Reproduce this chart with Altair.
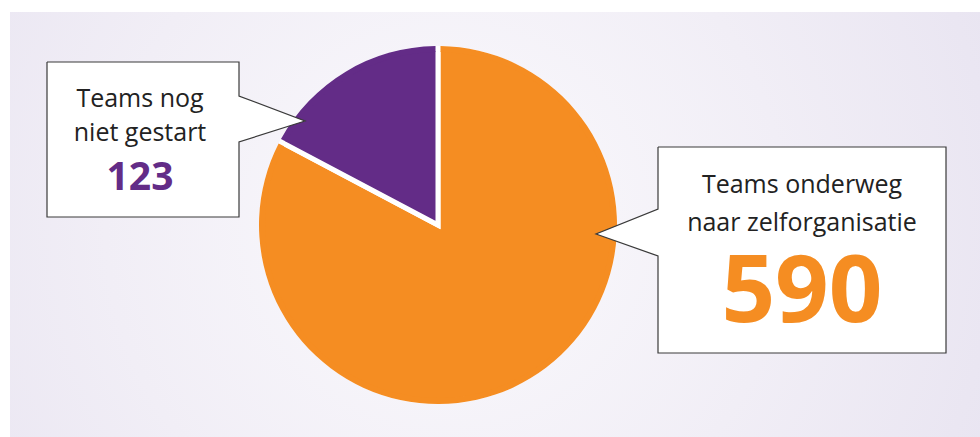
import altair as alt
import pandas as pd

# ---- data ----
categories = ["Teams onderweg naar zelforganisatie", "Teams nog niet gestart"]
values = [590, 123]
colors = ["#f58d22", "#632c87"]
label_lines = [["Teams onderweg", "naar zelforganisatie"], ["Teams nog", "niet gestart"]]

# ---- layout (pixels) ----
W, H = 980, 437
pie_cx, pie_cy, pie_r = 438, 225, 179
gap = 5
callouts = [
    dict(l=658, t=147, r=946, b=353, side="left", p1=209, p2=256, tx=596, ty=234, cx=802, lines_y=[193, 231], num_y=322, num_size=94),
    dict(l=47, t=62, r=239, b=217, side="right", p1=96, p2=142, tx=305, ty=121, cx=140, lines_y=[107, 141], num_y=190, num_size=39),
]

xs = alt.Scale(domain=[0, W], nice=False, zero=False)
ys = alt.Scale(domain=[0, H], reverse=True, nice=False, zero=False)

# background
bg_df = pd.DataFrame([{"x": 10, "x2": W, "y": 12, "y2": H}])
bg = alt.Chart(bg_df).mark_rect(
    fill=alt.RadialGradient(
        gradient="radial",
        x1=0.45, y1=0.5, r1=0.0, x2=0.45, y2=0.5, r2=0.78,
        stops=[alt.GradientStop(color="#fbfafd", offset=0.0),
               alt.GradientStop(color="#f1eef6", offset=0.45),
               alt.GradientStop(color="#e3deee", offset=1.0)],
    )
).encode(
    x=alt.X("x:Q", scale=xs, axis=None), x2="x2:Q",
    y=alt.Y("y:Q", scale=ys, axis=None), y2="y2:Q",
)

# pie: stroked core (white separators) + padded rim that hides the outer stroke
pie_df = pd.DataFrame({"category": categories, "value": values, "order": list(range(len(values)))})
color_enc = alt.Color("category:N", scale=alt.Scale(domain=categories, range=colors), legend=None)
core_r = pie_r - gap / 2
pie_core = alt.Chart(pie_df).mark_arc(radius=core_r, stroke="white", strokeWidth=gap, strokeJoin="miter").encode(
    theta=alt.Theta("value:Q", stack=True),
    color=color_enc,
    order=alt.Order("order:Q"),
    x=alt.value(pie_cx),
    y=alt.value(pie_cy),
)
rim_inner = core_r - gap / 2 - 1
pad_radius = (rim_inner ** 2 + pie_r ** 2) ** 0.5
pie_rim = alt.Chart(pie_df).mark_arc(radius=pie_r, radius2=rim_inner, padAngle=gap / pad_radius).encode(
    theta=alt.Theta("value:Q", stack=True),
    color=color_enc,
    order=alt.Order("order:Q"),
    x=alt.value(pie_cx),
    y=alt.value(pie_cy),
)

# callout fills and outlines
rect_rows, tri_rows, line_rows, text_rows, num_rows = [], [], [], [], []
for k, c in enumerate(callouts):
    rect_rows.append({"x": c["l"], "x2": c["r"], "y": c["t"], "y2": c["b"]})
    if c["side"] == "right":
        base = c["r"] - 1
        pts = [(c["l"], c["t"]), (c["r"], c["t"]), (c["r"], c["p1"]), (c["tx"], c["ty"]),
               (c["r"], c["p2"]), (c["r"], c["b"]), (c["l"], c["b"]), (c["l"], c["t"])]
    else:
        base = c["l"] + 1
        pts = [(c["l"], c["t"]), (c["r"], c["t"]), (c["r"], c["b"]), (c["l"], c["b"]),
               (c["l"], c["p2"]), (c["tx"], c["ty"]), (c["l"], c["p1"]), (c["l"], c["t"])]
    tri_rows.append({"id": k, "x": base, "y": c["p1"], "y2": c["p2"]})
    tri_rows.append({"id": k, "x": c["tx"], "y": c["ty"], "y2": c["ty"]})
    for i, (px, py) in enumerate(pts):
        line_rows.append({"id": k, "i": i, "x": px, "y": py})
    for line, ly in zip(label_lines[k], c["lines_y"]):
        text_rows.append({"x": c["cx"], "y": ly, "t": line})
    num_rows.append({"x": c["cx"], "y": c["num_y"], "t": str(values[k]), "col": colors[k], "s": c["num_size"]})

boxes = alt.Chart(pd.DataFrame(rect_rows)).mark_rect(fill="white").encode(
    x=alt.X("x:Q", scale=xs, axis=None), x2="x2:Q",
    y=alt.Y("y:Q", scale=ys, axis=None), y2="y2:Q",
)
tris = alt.Chart(pd.DataFrame(tri_rows)).mark_area(fill="white", orient="vertical").encode(
    x=alt.X("x:Q", scale=xs, axis=None),
    y=alt.Y("y:Q", scale=ys, axis=None), y2="y2:Q",
    detail="id:N",
)
outline = alt.Chart(pd.DataFrame(line_rows)).mark_line(color="#3a3a3a", strokeWidth=1.2, strokeJoin="miter").encode(
    x=alt.X("x:Q", scale=xs, axis=None),
    y=alt.Y("y:Q", scale=ys, axis=None),
    order="i:Q",
    detail="id:N",
)
labels = alt.Chart(pd.DataFrame(text_rows)).mark_text(
    font="Open Sans", fontSize=25, color="#222222", align="center", baseline="alphabetic"
).encode(
    x=alt.X("x:Q", scale=xs, axis=None),
    y=alt.Y("y:Q", scale=ys, axis=None),
    text="t:N",
)
nums = alt.Chart(pd.DataFrame(num_rows)).mark_text(
    font="Open Sans", fontWeight="bold", align="center", baseline="alphabetic"
).encode(
    x=alt.X("x:Q", scale=xs, axis=None),
    y=alt.Y("y:Q", scale=ys, axis=None),
    text="t:N",
    color=alt.Color("col:N", scale=None),
    size=alt.Size("s:Q", scale=None),
)

chart = alt.layer(bg, pie_core, pie_rim, tris, boxes, outline, labels, nums).properties(
    width=W, height=H, padding=0, autosize="none", background="white"
).configure_view(stroke=None)

chart.save("out.html", embed_options={"renderer": "svg", "actions": False})
